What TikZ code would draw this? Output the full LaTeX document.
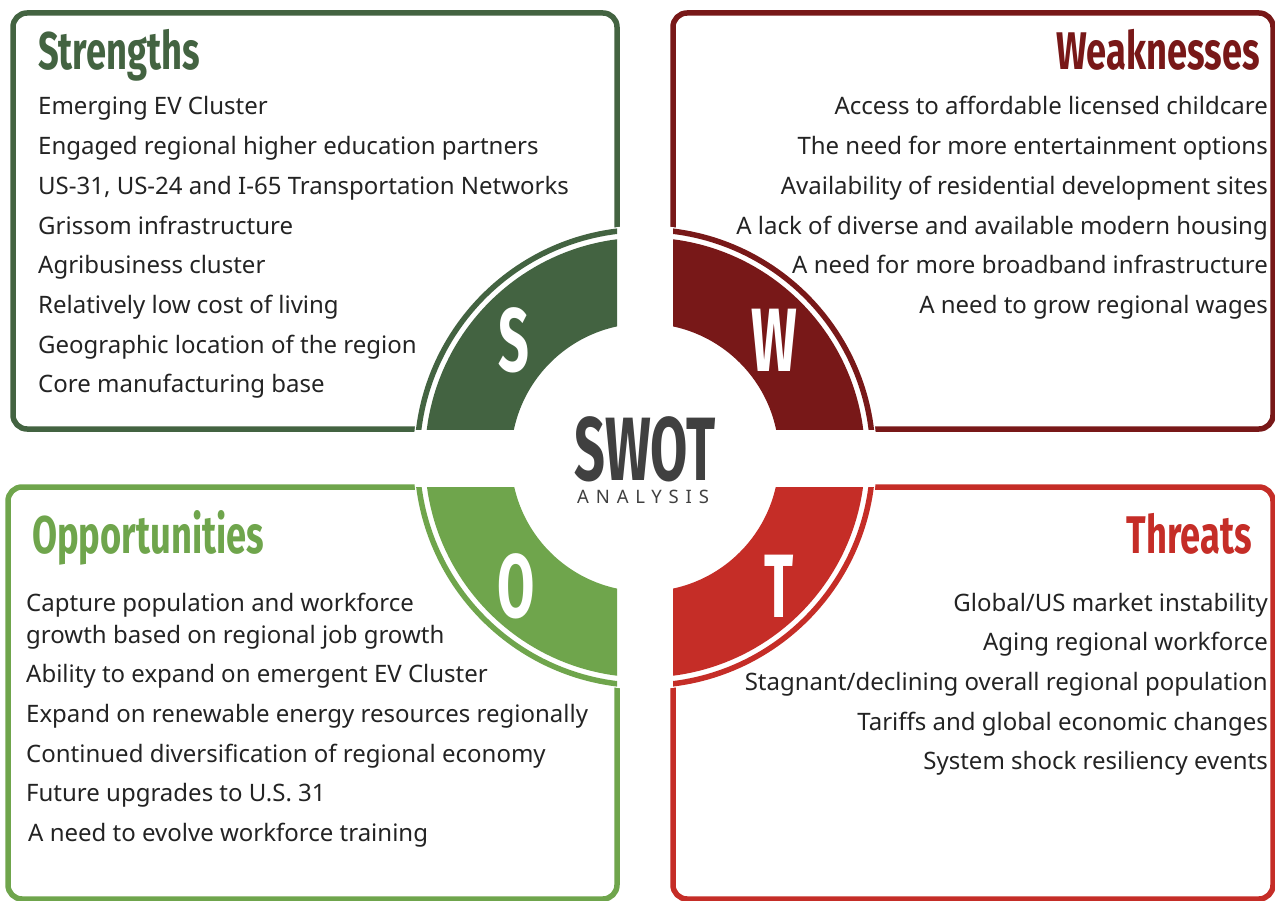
\documentclass[tikz,border=0pt]{standalone}
\usepackage{fontspec}
\setmainfont{Noto Sans}
\newfontfamily\headfont[FakeStretch=0.685]{Fira Sans}
\newfontfamily\letterfont[FakeStretch=0.6]{Fira Sans}
\usetikzlibrary{positioning}

\definecolor{sgreen}{RGB}{67,99,65}
\definecolor{wred}{RGB}{120,24,24}
\definecolor{ogreen}{RGB}{111,165,76}
\definecolor{tred}{RGB}{197,45,39}
\definecolor{swotgray}{RGB}{64,64,64}
\definecolor{itemtext}{RGB}{35,35,35}

\begin{document}
\begin{tikzpicture}[
        x=1pt, y=-1pt,
        node distance=39.7pt,
        frame/.style={line width=5.5pt, rounded corners=14pt},
        ring/.style={line width=5.5pt},
        item/.style={inner sep=0pt, text=itemtext, font=\fontsize{24}{28}\selectfont},
        itemL/.style={item, anchor=base west},
        itemR/.style={item, anchor=base east},
        head/.style={inner sep=0pt, font=\headfont\bfseries\fontsize{53}{60}\selectfont},
        letter/.style={inner sep=0pt, text=white, font=\letterfont\bfseries\fontsize{90}{90}\selectfont}
    ]

    \useasboundingbox (0,0) rectangle (1275,901);
    \coordinate (c) at (645,457.5);

    % the four frames, cut round the middle
    \draw[frame, sgreen] (13,13) rectangle (617,429);
    \draw[frame, wred] (673,13) rectangle (1273,429);
    \draw[frame, ogreen] (8,487) rectangle (617,899);
    \draw[frame, tred] (673,487) rectangle (1273,899);
    \fill[white] (c) circle (232pt);

    \begin{scope}
        \clip (13,13) rectangle (617,429);
        \draw[ring, sgreen] (c) circle (228pt);
        \fill[sgreen, even odd rule] (c) circle (220pt) circle (134pt);
    \end{scope}
    \begin{scope}
        \clip (673,13) rectangle (1273,429);
        \draw[ring, wred] (c) circle (228pt);
        \fill[wred, even odd rule] (c) circle (220pt) circle (134pt);
    \end{scope}
    \begin{scope}
        \clip (8,487) rectangle (617,899);
        \draw[ring, ogreen] (c) circle (228pt);
        \fill[ogreen, even odd rule] (c) circle (220pt) circle (134pt);
    \end{scope}
    \begin{scope}
        \clip (673,487) rectangle (1273,899);
        \draw[ring, tred] (c) circle (228pt);
        \fill[tred, even odd rule] (c) circle (220pt) circle (134pt);
    \end{scope}

    \node[letter] (ls) at (514,340) {S};
    \node[letter] (lw) at (774,340) {W};
    \node[letter] (lo) at (516,586) {O};
    \node[letter] (lt) at (779,586) {T};

    \node[inner sep=0pt, anchor=base, text=swotgray, text depth=0pt,
          font=\letterfont\bfseries\fontsize{90}{90}\selectfont] (swot) at (645,480) {SWOT};
    \node[inner sep=0pt, anchor=base west, text=swotgray, text depth=0pt,
          font=\fontsize{18.5}{20}\selectfont\addfontfeature{LetterSpace=37}] (analysis) at (577,503) {ANALYSIS};

    % Strengths
    \node[head, text=sgreen, anchor=base west] (hs) at (38,70) {Strengths};
    \node[itemL] (s1) at (38,115) {Emerging EV Cluster};
    \node[itemL, below=of s1.base west, anchor=base west] (s2) {Engaged regional higher education partners};
    \node[itemL, below=of s2.base west, anchor=base west] (s3) {US-31, US-24 and I-65 Transportation Networks};
    \node[itemL, below=of s3.base west, anchor=base west] (s4) {Grissom infrastructure};
    \node[itemL, below=of s4.base west, anchor=base west] (s5) {Agribusiness cluster};
    \node[itemL, below=of s5.base west, anchor=base west] (s6) {Relatively low cost of living};
    \node[itemL, below=of s6.base west, anchor=base west] (s7) {Geographic location of the region};
    \node[itemL, below=of s7.base west, anchor=base west] (s8) {Core manufacturing base};

    % Weaknesses
    \node[head, text=wred, anchor=base east] (hw) at (1260,70) {Weaknesses};
    \node[itemR] (w1) at (1268,115) {Access to affordable licensed childcare};
    \node[itemR, below=of w1.base east, anchor=base east] (w2) {The need for more entertainment options};
    \node[itemR, below=of w2.base east, anchor=base east] (w3) {Availability of residential development sites};
    \node[itemR, below=of w3.base east, anchor=base east] (w4) {A lack of diverse and available modern housing};
    \node[itemR, below=of w4.base east, anchor=base east] (w5) {A need for more broadband infrastructure};
    \node[itemR, below=of w5.base east, anchor=base east] (w6) {A need to grow regional wages};

    % Opportunities
    \node[head, text=ogreen, anchor=base west] (ho) at (32,553) {Opportunities};
    \node[itemL] (o1) at (26,611) {Capture population and workforce};
    \node[itemL, below=32pt of o1.base west, anchor=base west] (o2) {growth based on regional job growth};
    \node[itemL, below=of o2.base west, anchor=base west] (o3) {Ability to expand on emergent EV Cluster};
    \node[itemL, below=of o3.base west, anchor=base west] (o4) {Expand on renewable energy resources regionally};
    \node[itemL, below=of o4.base west, anchor=base west] (o5) {Continued diversification of regional economy};
    \node[itemL, below=of o5.base west, anchor=base west] (o6) {Future upgrades to U.S. 31};
    \node[itemL, below=of o6.base west, anchor=base west, xshift=2pt] (o7) {A need to evolve workforce training};

    % Threats
    \node[head, text=tred, anchor=base east] (ht) at (1252,553) {Threats};
    \node[itemR] (t1) at (1268,611) {Global/US market instability};
    \node[itemR, below=of t1.base east, anchor=base east] (t2) {Aging regional workforce};
    \node[itemR, below=of t2.base east, anchor=base east] (t3) {Stagnant/declining overall regional population};
    \node[itemR, below=of t3.base east, anchor=base east] (t4) {Tariffs and global economic changes};
    \node[itemR, below=of t4.base east, anchor=base east] (t5) {System shock resiliency events};

\end{tikzpicture}
\end{document}
